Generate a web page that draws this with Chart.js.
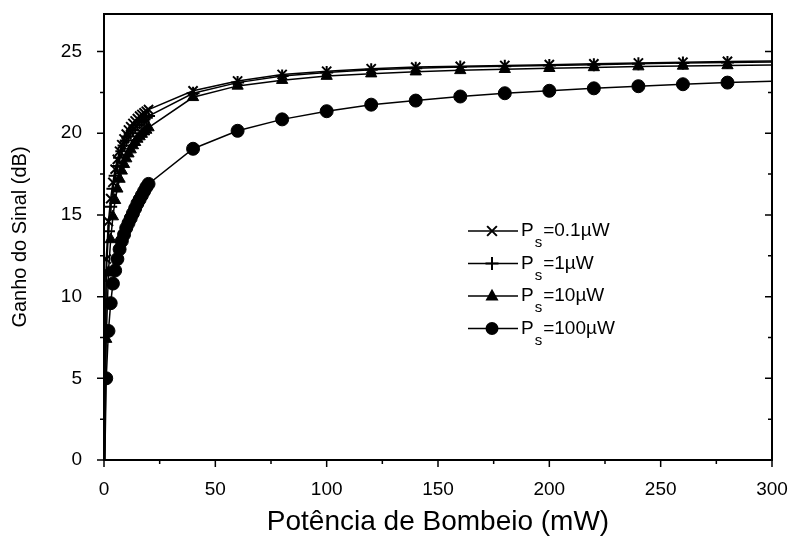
<!DOCTYPE html>
<html>
<head>
<meta charset="utf-8">
<script src="https://cdn.jsdelivr.net/npm/chart.js@4.4.1/dist/chart.umd.min.js"></script>
<style>
  html, body { margin: 0; padding: 0; background: #fff; }
  #wrap { width: 789px; height: 539px; }
</style>
</head>
<body>
<div id="wrap"><canvas id="chart1" width="789" height="539"></canvas></div>
<script>
// pump power (mW) - dense points below 20 mW, then every 20 mW
const pumpPower = [0, 1, 2, 3, 4, 5, 6, 7, 8, 9, 10, 11, 12, 13, 14, 15, 16, 17, 18, 19, 20,
  40, 60, 80, 100, 120, 140, 160, 180, 200, 220, 240, 260, 280, 300];

// signal gain (dB) for each signal power
const gain01uW = [-3, 12.3, 14.6, 16.0, 17.0, 17.8, 18.4, 18.9, 19.3, 19.65, 19.95, 20.2, 20.4, 20.6, 20.75, 20.9, 21.05, 21.15, 21.25, 21.35, 21.45,
  22.6, 23.2, 23.6, 23.8, 23.95, 24.05, 24.1, 24.15, 24.2, 24.25, 24.3, 24.35, 24.4, 24.42];
const gain1uW = [-3, 11.3, 14.0, 15.5, 16.6, 17.4, 18.0, 18.5, 18.9, 19.25, 19.55, 19.8, 20.0, 20.2, 20.35, 20.5, 20.65, 20.75, 20.85, 20.95, 21.05,
  22.45, 23.1, 23.5, 23.72, 23.88, 23.98, 24.05, 24.1, 24.15, 24.2, 24.25, 24.3, 24.33, 24.36];
const gain10uW = [-3, 7.4, 11.5, 13.5, 14.9, 15.9, 16.6, 17.2, 17.7, 18.1, 18.45, 18.75, 19.0, 19.25, 19.45, 19.65, 19.8, 19.95, 20.1, 20.2, 20.35,
  22.2, 22.9, 23.25, 23.5, 23.65, 23.77, 23.85, 23.92, 23.98, 24.03, 24.08, 24.12, 24.15, 24.18];
const gain100uW = [-3, 5.0, 7.9, 9.6, 10.8, 11.6, 12.3, 12.9, 13.4, 13.8, 14.2, 14.5, 14.8, 15.1, 15.4, 15.7, 15.95, 16.2, 16.45, 16.7, 16.9,
  19.05, 20.15, 20.85, 21.35, 21.75, 22.0, 22.25, 22.45, 22.6, 22.75, 22.88, 23.0, 23.1, 23.18];

const seriesLabels = ['0.1\u00b5W', '1\u00b5W', '10\u00b5W', '100\u00b5W'];
const seriesGains = [gain01uW, gain1uW, gain10uW, gain100uW];
const seriesMarkers = ['crossRot', 'cross', 'triangle', 'circle'];

const yTickValues = [0, 5, 10, 15, 20, 25];
const xTitle = 'Pot\u00eancia de Bombeio (mW)';
const yTitle = 'Ganho do Sinal (dB)';

const FONT = "'Liberation Sans', Arial, Helvetica, sans-serif";

function toPoints(gains) {
  return pumpPower.map((p, i) => ({ x: p, y: gains[i] }));
}

// draw one marker shape (used for the in-plot legend)
function drawMarker(ctx, style, x, y, r) {
  ctx.save();
  ctx.fillStyle = '#000';
  ctx.strokeStyle = '#000';
  ctx.lineWidth = 2;
  ctx.beginPath();
  if (style === 'circle') {
    ctx.arc(x, y, r, 0, Math.PI * 2);
    ctx.fill();
  } else if (style === 'triangle') {
    ctx.moveTo(x, y - r * 1.1);
    ctx.lineTo(x + r, y + r * 0.7);
    ctx.lineTo(x - r, y + r * 0.7);
    ctx.closePath();
    ctx.fill();
  } else if (style === 'cross') {
    ctx.moveTo(x - r, y); ctx.lineTo(x + r, y);
    ctx.moveTo(x, y - r); ctx.lineTo(x, y + r);
    ctx.stroke();
  } else {
    const d = r * 0.75;
    ctx.moveTo(x - d, y - d); ctx.lineTo(x + d, y + d);
    ctx.moveTo(x + d, y - d); ctx.lineTo(x - d, y + d);
    ctx.stroke();
  }
  ctx.restore();
}

// frame + major/minor ticks (Origin style)
const frameTicks = {
  id: 'frameTicks',
  afterDatasetsDraw(chart) {
    const ctx = chart.ctx;
    const a = chart.chartArea;
    const xs = chart.scales.x, ys = chart.scales.y;
    ctx.save();
    ctx.strokeStyle = '#000';
    ctx.lineWidth = 2;
    ctx.strokeRect(a.left, a.top, a.right - a.left, a.bottom - a.top);
    ctx.lineWidth = 1.5;
    ctx.beginPath();
    for (let v = 0; v <= 300; v += 25) {
      const px = xs.getPixelForValue(v);
      const len = v % 50 === 0 ? 7 : 4;
      ctx.moveTo(px, a.bottom); ctx.lineTo(px, a.bottom + len);
    }
    for (let v = 0; v <= ys.max; v += 2.5) {
      const py = ys.getPixelForValue(v);
      const len = v % 5 === 0 ? 7 : 4;
      ctx.moveTo(a.left - len, py); ctx.lineTo(a.left, py);
      ctx.moveTo(a.right - len, py); ctx.lineTo(a.right, py);
    }
    ctx.stroke();
    ctx.restore();
  }
};

// legend inside the plot, with subscript "s"
const insideLegend = {
  id: 'insideLegend',
  afterDraw(chart) {
    const ctx = chart.ctx;
    const x0 = 468, x1 = 518, yStart = 231, step = 32.5;
    ctx.save();
    seriesLabels.forEach((lab, i) => {
      const y = yStart + i * step;
      ctx.strokeStyle = '#000';
      ctx.lineWidth = 1.5;
      ctx.beginPath();
      ctx.moveTo(x0, y); ctx.lineTo(x1, y);
      ctx.stroke();
      drawMarker(ctx, seriesMarkers[i], 492, y, 6.5);
      ctx.fillStyle = '#000';
      ctx.textBaseline = 'middle';
      ctx.textAlign = 'left';
      ctx.font = '19px ' + FONT;
      ctx.fillText('P', 521, y);
      const w = ctx.measureText('P').width;
      ctx.font = '15px ' + FONT;
      ctx.fillText('s', 521 + w + 1, y + 12);
      const ws = ctx.measureText('s').width;
      ctx.font = '19px ' + FONT;
      ctx.fillText('=' + lab, 521 + w + ws + 2, y);
    });
    ctx.restore();
  }
};

const datasets = seriesGains.map((g, i) => ({
  label: seriesLabels[i],
  data: toPoints(g),
  borderColor: '#000',
  backgroundColor: '#000',
  borderWidth: 1.5,
  pointStyle: seriesMarkers[i],
  pointRadius: ctx => (ctx.raw && ctx.raw.x >= 300 ? 0 : 6.5),
  pointBorderWidth: seriesMarkers[i] === 'circle' || seriesMarkers[i] === 'triangle' ? 1 : 2,
  pointHoverRadius: 0,
  tension: 0
}));

new Chart(document.getElementById('chart1'), {
  type: 'line',
  data: { datasets: datasets },
  plugins: [frameTicks, insideLegend],
  options: {
    responsive: false,
    animation: false,
    events: [],
    layout: { padding: { left: 0, top: 14, right: 17, bottom: 0 } },
    plugins: { legend: { display: false }, tooltip: { enabled: false } },
    scales: {
      x: {
        type: 'linear',
        min: 0, max: 300,
        afterFit: s => { s.height = 79; s.paddingLeft = 0; s.paddingRight = 0; },
        grid: { display: false },
        border: { display: false },
        ticks: { stepSize: 50, padding: 10, color: '#000', font: { family: FONT, size: 19 } },
        title: { display: true, text: xTitle, color: '#000', font: { family: FONT, size: 28 }, padding: { top: 0, bottom: 0 } }
      },
      y: {
        min: 0, max: 27.3,
        afterFit: s => { s.width = 104; s.paddingTop = 0; s.paddingBottom = 0; },
        afterBuildTicks: s => { s.ticks = yTickValues.map(v => ({ value: v })); },
        grid: { display: false },
        border: { display: false },
        ticks: { padding: 14, color: '#000', font: { family: FONT, size: 19 } },
        title: { display: true, text: yTitle, color: '#000', font: { family: FONT, size: 20 }, padding: { top: 8, bottom: 0 } }
      }
    }
  }
});
</script>
</body>
</html>
